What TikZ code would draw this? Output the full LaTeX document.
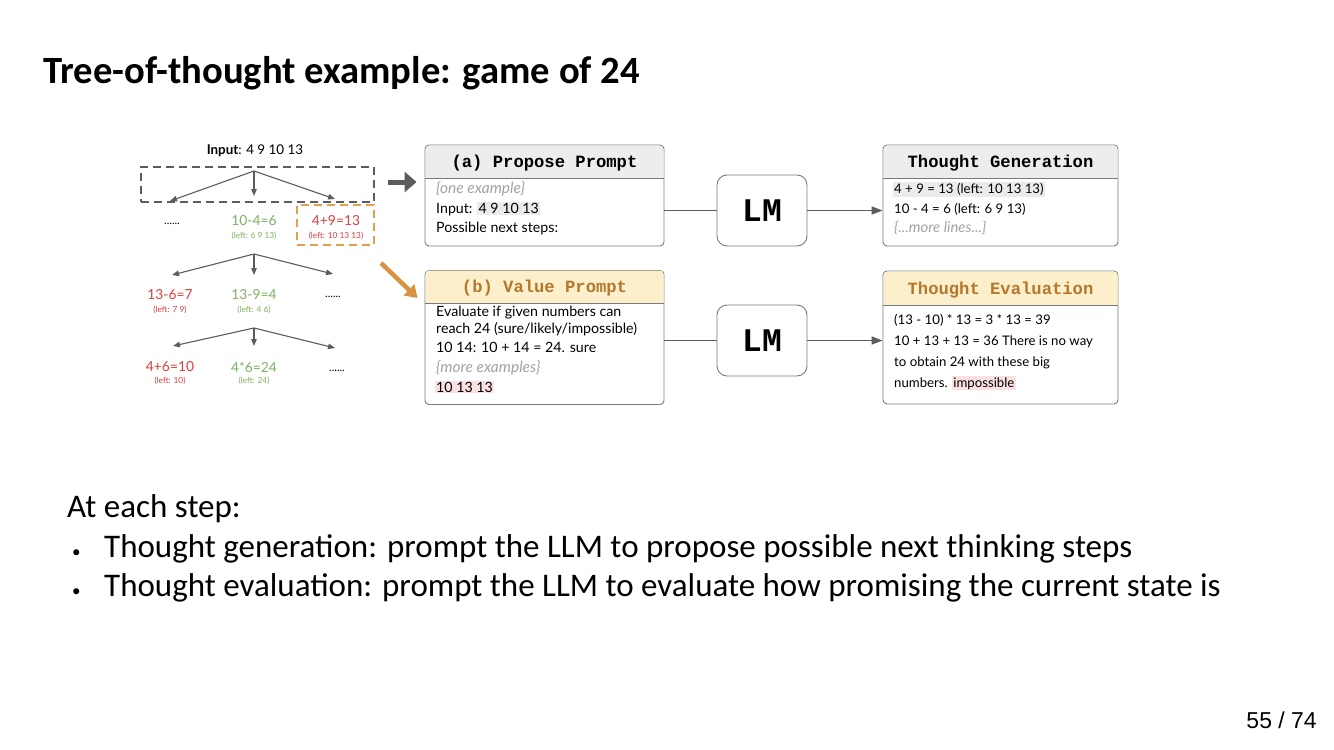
\documentclass[tikz,border=0pt]{standalone}
\usepackage{fontspec}
\setmainfont{Carlito}
\newfontfamily\dg{Lato}
\newfontfamily\mono{Liberation Mono}
\newfontfamily\arialf{Liberation Sans}
\usetikzlibrary{arrows.meta}
\definecolor{tred}{HTML}{D9403F}
\definecolor{tgreen}{HTML}{7DB35E}
\definecolor{dgray}{HTML}{5C5C5C}
\definecolor{boxgray}{HTML}{7A7A7A}
\definecolor{hdgray}{HTML}{EDEDED}
\definecolor{hdyel}{HTML}{FCF0CC}
\definecolor{brownt}{HTML}{B5772B}
\definecolor{orng}{HTML}{E2A04F}
\definecolor{orarr}{HTML}{D9923F}
\definecolor{hlgray}{HTML}{EBEBEB}
\definecolor{hlpink}{HTML}{FBE1E1}
\definecolor{itgray}{HTML}{A3A3A3}
\newcommand\hlt[2]{{\setlength{\fboxsep}{1.2pt}\colorbox{#1}{#2}}}
\begin{document}
\begin{tikzpicture}[x=1pt,y=-1pt,
  pbox/.style={draw=boxgray, line width=0.9pt, rounded corners=4pt, fill=white, inner sep=0},
  hdr/.style={inner sep=0, font=\mono\bfseries\fontsize{17.2}{17.2}\selectfont},
  ln/.style={anchor=base west, inner sep=0, font=\dg\fontsize{14.2}{16}\selectfont},
  lnit/.style={anchor=base west, inner sep=0, text=itgray, font=\dg\itshape\fontsize{15.5}{16}\selectfont},
  lo/.style={anchor=base west, inner sep=0, font=\dg\fontsize{13.2}{15}\selectfont},
  loit/.style={anchor=base west, inner sep=0, text=itgray, font=\dg\itshape\fontsize{14.9}{15}\selectfont},
  lmbox/.style={draw=boxgray, line width=0.9pt, rounded corners=10pt, fill=white, minimum width=90pt, minimum height=71pt, inner sep=0, font=\mono\bfseries\fontsize{33}{33}\selectfont},
  conn/.style={draw=dgray, line width=1.6pt},
  tarr/.style={draw=dgray, line width=1.1pt, -{Triangle[length=7pt,width=5.5pt]}},
  tmain/.style={inner sep=0, font=\dg\fontsize{13.8}{15}\selectfont},
  tsub/.style={inner sep=0, font=\dg\fontsize{8.3}{9}\selectfont},
  tdots/.style={inner sep=0, font=\dg\fontsize{11}{11}\selectfont},
  dbox/.style={draw=dgray, line width=1.8pt, dash pattern=on 8pt off 5pt, minimum width=233pt, minimum height=35pt, inner sep=0},
  obox/.style={draw=orng, line width=1.8pt, dash pattern=on 8pt off 5pt, minimum width=77pt, minimum height=40pt, inner sep=0},
  bodyt/.style={anchor=base west, inner sep=0, font=\fontsize{33}{35}\selectfont},
  bul/.style={anchor=base west, inner sep=0, font=\fontsize{17}{17}\selectfont}
]
\useasboundingbox (0,0) rectangle (1334,750);
\fill[white] (0,0) rectangle (1334,750);

% title
\node[anchor=base west, inner sep=0, font=\bfseries\fontsize{38.6}{40}\selectfont] (title) at (43,83) {Tree-of-thought example: game of 24};

% ---------------- tree ----------------
\node[inner sep=0, font=\dg\fontsize{13.4}{14}\selectfont] (inp) at (255,151) {\textbf{Input}: 4 9 10 13};
\node[dbox] (db) at (257.5,184.5) {};
\node[obox] (ob) at (335.5,225) {};

\coordinate (a1) at (254,171);
\coordinate (t11) at (170,201);
\coordinate (t12) at (254,196);
\coordinate (t13) at (335,199);
\draw[tarr] (a1) -- (t11);
\draw[tarr] (a1) -- (t12);
\draw[tarr] (a1) -- (t13);

\node[tdots] (d1) at (172,224) {......};
\node[tmain, text=tgreen] (n12) at (254,221) {10-4=6};
\node[tsub, text=tgreen] (s12) at (254,235.5) {(left: 6 9 13)};
\node[tmain, text=tred] (n13) at (336,221) {4+9=13};
\node[tsub, text=tred] (s13) at (336,235.5) {(left: 10 13 13)};

\coordinate (a2) at (254,254);
\coordinate (t21) at (172,275);
\coordinate (t22) at (254,275);
\coordinate (t23) at (333,274);
\draw[tarr] (a2) -- (t21);
\draw[tarr] (a2) -- (t22);
\draw[tarr] (a2) -- (t23);

\node[tmain, text=tred] (n21) at (170,295) {13-6=7};
\node[tsub, text=tred] (s21) at (170,310) {(left: 7 9)};
\node[tmain, text=tgreen] (n22) at (254,295) {13-9=4};
\node[tsub, text=tgreen] (s22) at (254,310) {(left: 4 6)};
\node[tdots] (d2) at (333,297) {......};

\coordinate (a3) at (254,328);
\coordinate (t31) at (173,346);
\coordinate (t32) at (254,346);
\coordinate (t33) at (335,348);
\draw[tarr] (a3) -- (t31);
\draw[tarr] (a3) -- (t32);
\draw[tarr] (a3) -- (t33);

\node[tmain, text=tred] (n31) at (170,367) {4+6=10};
\node[tsub, text=tred] (s31) at (170,381) {(left: 10)};
\node[tmain, text=tgreen] (n32) at (254,367) {4*6=24};
\node[tsub, text=tgreen] (s32) at (254,381) {(left: 24)};
\node[tdots] (d3) at (337,371) {......};

% ---------------- prompt boxes ----------------
\node[pbox, minimum width=239pt, minimum height=101pt] (prop) at (544.5,195.5) {};
\fill[hdgray, rounded corners=3.5pt] (425.5,178) -- (425.5,145.5) -- (663.5,145.5) -- (663.5,178);
\draw[boxgray, line width=0.9pt] (425,178) -- (664,178);
\node[hdr] (proph) at (544.5,163) {(a) Propose Prompt};
\node[lnit] (p1) at (436,193.5) {\{one example\}};
\node[ln] (p2) at (436,213.5) {Input: \hlt{hlgray}{4 9 10 13}};
\node[ln] (p3) at (436,232) {Possible next steps:};

\node[pbox, minimum width=239pt, minimum height=134pt] (val) at (544.5,337.5) {};
\fill[hdyel, rounded corners=3.5pt] (425.5,303) -- (425.5,270.5) -- (663.5,270.5) -- (663.5,303);
\draw[boxgray, line width=0.9pt] (425,303) -- (664,303);
\node[hdr, text=brownt] (valh) at (544.5,288) {(b) Value Prompt};
\node[ln] (v1) at (436,316) {Evaluate if given numbers can};
\node[ln] (v2) at (436,333.5) {reach 24 (sure/likely/impossible)};
\node[ln] (v3) at (436,352.5) {10 14: 10 + 14 = 24. sure};
\node[lnit] (v4) at (436,372) {\{more examples\}};
\node[ln] (v5) at (434.8,392) {\hlt{hlpink}{10 13 13}};

% ---------------- LM boxes ----------------
\node[lmbox] (lm1) at (762,210.5) {LM};
\node[lmbox] (lm2) at (762,340.5) {LM};

% ---------------- output boxes ----------------
\node[pbox, minimum width=235pt, minimum height=101pt] (tgen) at (1000.5,195.5) {};
\fill[hdgray, rounded corners=3.5pt] (883.5,178) -- (883.5,145.5) -- (1117.5,145.5) -- (1117.5,178);
\draw[boxgray, line width=0.9pt] (883,178) -- (1118,178);
\node[hdr] (tgenh) at (1000.5,163) {Thought Generation};
\node[lo] (g1) at (892.8,193.5) {\hlt{hlgray}{4 + 9 = 13 (left: 10 13 13)}};
\node[lo] (g2) at (894,213.5) {10 - 4 = 6 (left: 6 9 13)};
\node[loit] (g3) at (894,232) {\{...more lines...\}};

\node[pbox, minimum width=235pt, minimum height=133pt] (teval) at (1000.5,337.5) {};
\fill[hdyel, rounded corners=3.5pt] (883.5,305) -- (883.5,271.5) -- (1117.5,271.5) -- (1117.5,305);
\draw[boxgray, line width=0.9pt] (883,305) -- (1118,305);
\node[hdr, text=brownt] (tevalh) at (1000.5,290) {Thought Evaluation};
\node[lo] (e1) at (894,324.5) {(13 - 10) * 13 = 3 * 13 = 39};
\node[lo] (e2) at (894,345) {10 + 13 + 13 = 36 There is no way};
\node[lo] (e3) at (894,366) {to obtain 24 with these big};
\node[lo] (e4) at (894,387) {numbers. \hlt{hlpink}{impossible}};

% ---------------- connectors ----------------
\draw[conn] (prop.east |- lm1.west) -- (lm1.west);
\draw[conn, -{Triangle[length=11pt,width=8pt]}] (lm1.east) -- (lm1.east -| tgen.west);
\draw[conn] (val.east |- lm2.west) -- (lm2.west);
\draw[conn, -{Triangle[length=11pt,width=8pt]}] (lm2.east) -- (lm2.east -| teval.west);

% big arrows
\coordinate (ba0) at (388,182);
\coordinate (oa0) at (381,263);
\draw[dgray, line width=5pt, -{Triangle[length=12pt,width=20pt]}] (ba0) -- ([xshift=-8pt]ba0 -| prop.west);
\draw[orarr, line width=4.5pt, -{Triangle[length=12pt,width=15pt]}] (oa0) -- ([shift={(-7pt,-28pt)}]val.north west);

% ---------------- body text ----------------
\node[bodyt] (b0) at (67,517) {At each step:};
\node[bul] (bu1) at (72,557) {\textbullet};
\node[bodyt] (b1) at (104,557) {Thought generation: prompt the LLM to propose possible next thinking steps};
\node[bul] (bu2) at (72,596) {\textbullet};
\node[bodyt] (b2) at (104,596) {Thought evaluation: prompt the LLM to evaluate how promising the current state is};

\node[anchor=base east, inner sep=0, font=\arialf\fontsize{23}{23}\selectfont] (pg) at (1317,728) {55 / 74};
\end{tikzpicture}
\end{document}
